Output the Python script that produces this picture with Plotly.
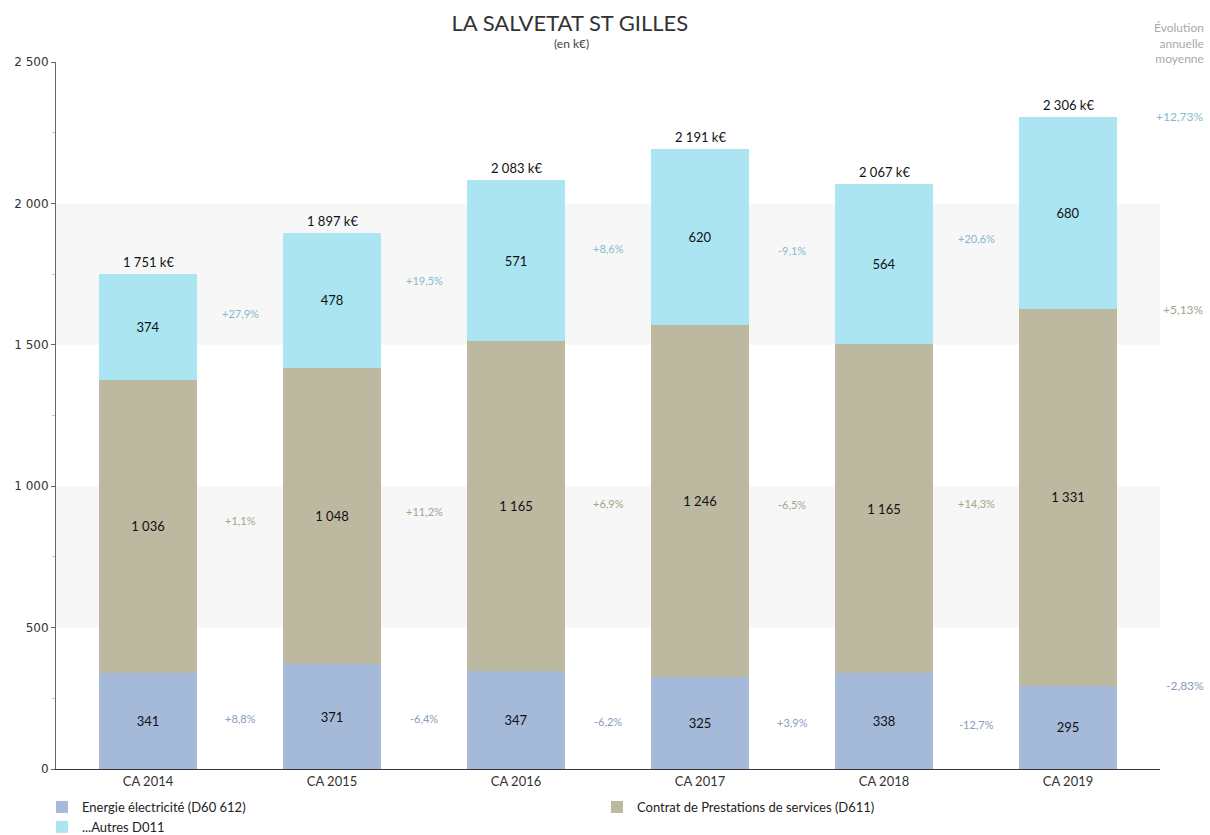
import plotly.graph_objects as go

categories = ["CA 2014", "CA 2015", "CA 2016", "CA 2017", "CA 2018", "CA 2019"]
energie = [341, 371, 347, 325, 338, 295]
contrat = [1036, 1048, 1165, 1246, 1165, 1331]
autres = [374, 478, 571, 620, 564, 680]
totals = [1751, 1897, 2083, 2191, 2067, 2306]

growth_energie = ["+8,8%", "-6,4%", "-6,2%", "+3,9%", "-12,7%"]
growth_contrat = ["+1,1%", "+11,2%", "+6,9%", "-6,5%", "+14,3%"]
growth_autres = ["+27,9%", "+19,5%", "+8,6%", "-9,1%", "+20,6%"]
avg_growth = {"energie": "-2,83%", "contrat": "+5,13%", "autres": "+12,73%"}

names = ["Energie électricité (D60 612)", "Contrat de Prestations de services (D611)", "...Autres D011"]
colors = ["#a5b9d9", "#bdb8a0", "#abe5f2"]
label_colors = ["#8a9bbd", "#a6a38c", "#86b9cd"]
legend_ids = ["legend", "legend2", "legend"]


def fmt(v):
    return f"{v:,}".replace(",", " ")


series = [energie, contrat, autres]
growths = [growth_energie, growth_contrat, growth_autres]

fig = go.Figure()
for vals, name, col, lg in zip(series, names, colors, legend_ids):
    fig.add_trace(go.Bar(
        x=categories, y=vals, name=name, legend=lg,
        marker=dict(color=col, line=dict(width=0)),
        text=[fmt(v) for v in vals], textposition="inside",
        insidetextanchor="middle",
        insidetextfont=dict(color="#111111", size=13, family="Lato"),
        textangle=0,
        hoverinfo="skip",
    ))

annotations = []
for i, t in enumerate(totals):
    annotations.append(dict(x=categories[i], y=t, text=f"{fmt(t)} k€", showarrow=False,
                            yanchor="bottom", yshift=2,
                            font=dict(size=13, color="#111111", family="Lato")))

for s_idx, (vals, gl) in enumerate(zip(series, growths)):
    base = [sum(series[k][i] for k in range(s_idx)) for i in range(len(categories))]
    for i, g in enumerate(gl):
        mid_a = base[i] + vals[i] / 2
        mid_b = base[i + 1] + vals[i + 1] / 2
        annotations.append(dict(x=i + 0.5, y=(mid_a + mid_b) / 2, xref="x", yref="y",
                                text=g, showarrow=False,
                                font=dict(size=11, color=label_colors[s_idx], family="Lato")))

last = len(categories) - 1
tops = [energie[last], energie[last] + contrat[last], totals[last]]
for s_idx, key in enumerate(["energie", "contrat", "autres"]):
    annotations.append(dict(x=1.0417, xref="paper", y=tops[s_idx], yref="y",
                            xanchor="right", text=avg_growth[key], showarrow=False,
                            font=dict(size=12, color=label_colors[s_idx], family="Lato")))

annotations.append(dict(x=1.0417, xref="paper", y=1.0, yref="paper", xanchor="right",
                        yanchor="bottom", yshift=-6, align="right",
                        text="Évolution<br>annuelle<br>moyenne", showarrow=False,
                        font=dict(size=12, color="#aaaaaa", family="Lato")))
annotations.append(dict(x=0.467, xref="paper", y=1.0, yref="paper", yanchor="bottom",
                        yshift=9, text="(en k€)", showarrow=False,
                        font=dict(size=12, color="#444444", family="Lato")))

shapes = []
for y0, y1 in [(500, 1000), (1500, 2000)]:
    shapes.append(dict(type="rect", xref="paper", yref="y", x0=0, x1=1, y0=y0, y1=y1,
                       fillcolor="#f7f7f7", line=dict(width=0), layer="below"))

legend_common = dict(orientation="v", xref="paper", yref="container",
                     xanchor="left", yanchor="top", traceorder="normal",
                     bgcolor="rgba(0,0,0,0)",
                     font=dict(size=13, color="#222222", family="Lato"),
                     itemclick=False, tracegroupgap=0)

fig.update_layout(
    barmode="stack",
    bargap=0.47,
    width=1210, height=835,
    paper_bgcolor="white", plot_bgcolor="white",
    margin=dict(l=56, r=50, t=62, b=66, autoexpand=False),
    title=dict(text="LA SALVETAT ST GILLES", x=0.471, xanchor="center", y=0.972, yanchor="middle",
               font=dict(size=22, color="#333333", family="Lato")),
    separators=", ",
    font=dict(family="Lato", color="#333333"),
    showlegend=True,
    legend=dict(x=-0.0127, y=0.0515, **legend_common),
    legend2=dict(x=0.49, y=0.0515, **legend_common),
    annotations=annotations,
    shapes=shapes,
    xaxis=dict(showline=True, linecolor="#333333", linewidth=1, ticks="",
               tickfont=dict(size=13, color="#333333", family="Lato"), fixedrange=True),
    yaxis=dict(range=[0, 2500], dtick=500, tickformat=",d", showgrid=False, zeroline=False,
               showline=True, linecolor="#666666", linewidth=1,
               ticks="outside", ticklen=4, tickcolor="#666666",
               minor=dict(dtick=250, ticks="outside", ticklen=3, tickcolor="#f0b0b0"),
               tickfont=dict(size=12, color="#333333", family="DejaVu Sans"),
               fixedrange=True),
)

fig.write_html("out.html", config={"displayModeBar": False},
               post_script="document.body.style.margin='0';")
